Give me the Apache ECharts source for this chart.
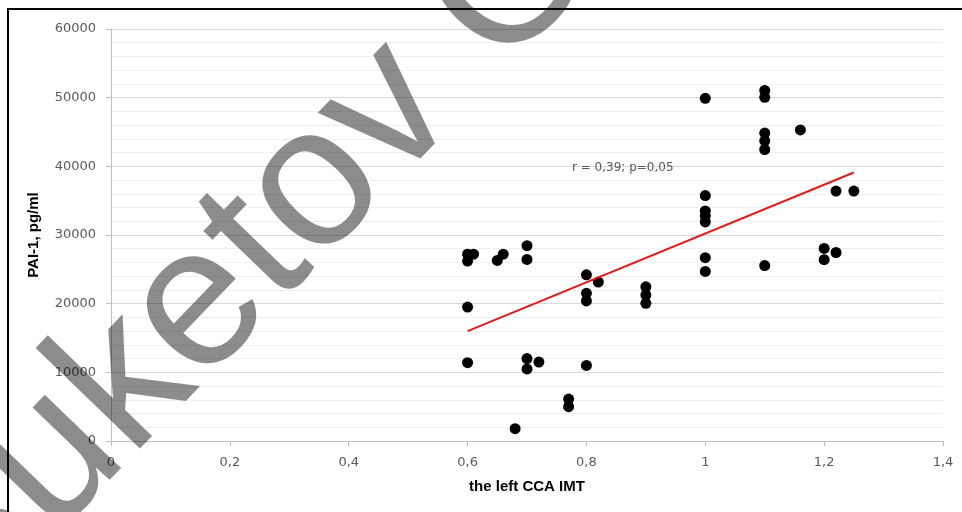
<!DOCTYPE html>
<html><head><meta charset="utf-8">
<script src="https://cdn.jsdelivr.net/npm/echarts@6/dist/echarts.min.js"></script>
<style>html,body{margin:0;padding:0;background:#fff}#c{width:962px;height:512px}</style>
</head><body><div id="c"></div>
<script>
// Data
const imtValues = [0.6, 0.61, 0.6, 0.6, 0.6,
  0.65, 0.66, 0.7, 0.7, 0.7, 0.7, 0.72,
  0.68, 0.77, 0.77,
  0.8, 0.82, 0.8, 0.8, 0.8,
  0.9, 0.9, 0.9,
  1.0, 1.0, 1.0, 1.0, 1.0, 1.0, 1.0,
  1.1, 1.1, 1.1, 1.1, 1.1, 1.1,
  1.16,
  1.2, 1.2, 1.22, 1.22, 1.25];
const paiValues = [27200, 27200, 26200, 19500, 11400,
  26300, 27200, 28450, 26450, 12000, 10500, 11500,
  1800, 6100, 5000,
  24200, 23150, 21500, 20400, 11000,
  22450, 21250, 20050,
  49900, 35750, 33500, 32800, 31900, 26700, 24700,
  51050, 50050, 44850, 43700, 42450, 25550,
  45300,
  28050, 26400, 27450, 36400, 36400];
const trendX = [0.6, 1.25];
const trendY = [16000, 39100];
const xTickLabels = ['0', '0,2', '0,4', '0,6', '0,8', '1', '1,2', '1,4'];
const yTickLabels = ['0', '10000', '20000', '30000', '40000', '50000', '60000'];
const xAxisTitle = 'the left CCA IMT';
const yAxisTitle = 'PAI-1, pg/ml';
const statText = 'r = 0,39; p=0,05';
const watermarkText = 'Suketov O';

const points = imtValues.map((x, i) => [x, paiValues[i]]);
const trend = trendX.map((x, i) => [x, trendY[i]]);

const chart = echarts.init(document.getElementById('c'), null, {renderer: 'canvas'});
const labelFont = {color: '#595959', fontSize: 13, fontFamily: 'DejaVu Sans'};
chart.setOption({
  animation: false,
  backgroundColor: '#ffffff',
  grid: {left: 111, right: 19, top: 29, bottom: 71, containLabel: false},
  xAxis: {
    type: 'value', min: 0, max: 1.4, interval: 0.2,
    name: xAxisTitle, nameLocation: 'middle', nameGap: 38,
    nameTextStyle: {color: '#000', fontSize: 15, fontWeight: 'bold', fontFamily: 'Liberation Sans'},
    axisLine: {show: true, lineStyle: {color: '#bfbfbf', width: 1}},
    axisTick: {show: true, length: 5, lineStyle: {color: '#bfbfbf'}},
    axisLabel: Object.assign({margin: 15, formatter: v => xTickLabels[Math.round(v / 0.2)]}, labelFont),
    splitLine: {show: false}
  },
  yAxis: {
    type: 'value', min: 0, max: 60000, interval: 10000,
    name: yAxisTitle, nameLocation: 'middle', nameGap: 70,
    nameTextStyle: {color: '#000', fontSize: 15, fontWeight: 'bold', fontFamily: 'Liberation Sans'},
    axisLine: {show: true, lineStyle: {color: '#bfbfbf', width: 1}},
    axisTick: {show: true, length: 5, lineStyle: {color: '#bfbfbf'}},
    axisLabel: Object.assign({margin: 15, formatter: v => yTickLabels[Math.round(v / 10000)]}, labelFont),
    splitLine: {show: true, lineStyle: {color: '#d9d9d9', width: 1}},
    minorTick: {show: false, splitNumber: 5},
    minorSplitLine: {show: true, lineStyle: {color: '#efefef', width: 1}}
  },
  series: [
    {type: 'scatter', data: points, symbol: 'circle', symbolSize: 11,
     itemStyle: {color: '#000000', opacity: 1}, z: 3},
    {type: 'line', data: trend, showSymbol: false, symbol: 'none',
     lineStyle: {color: '#e31a1a', width: 2}, z: 4}
  ],
  graphic: [
    {type: 'text', x: 572, y: 168, z: 50,
     style: {text: statText, font: '12px "DejaVu Sans"', fill: '#595959', align: 'left', verticalAlign: 'middle', textAlign: 'left', textVerticalAlign: 'middle'}},
    {type: 'line', z: 60, shape: {x1: 7, y1: 9, x2: 962, y2: 9}, style: {stroke: '#000', lineWidth: 2}},
    {type: 'line', z: 60, shape: {x1: 8, y1: 8, x2: 8, y2: 512}, style: {stroke: '#000', lineWidth: 2}},
    {type: 'text', x: -79, y: 596, rotation: 46 * Math.PI / 180, z: 100,
     style: {text: watermarkText, font: '200px "Liberation Sans"', fill: 'rgba(0,0,0,0.45)', align: 'left', verticalAlign: 'middle', textAlign: 'left', textVerticalAlign: 'middle'}}
  ]
});
</script>
</body></html>
